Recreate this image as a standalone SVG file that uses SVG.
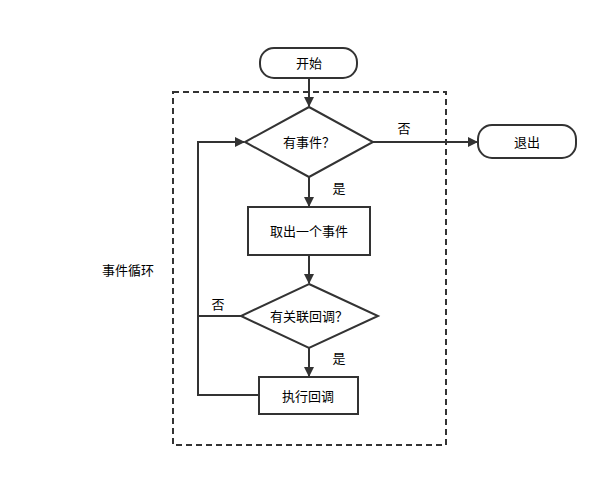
<svg xmlns="http://www.w3.org/2000/svg" width="608" height="478" viewBox="0 0 608 478">
<style>
.s{fill:#fff;stroke:#333;stroke-width:2}
.t{font-family:"Liberation Sans","Noto Sans CJK SC",sans-serif;font-size:13px;fill:#000;text-anchor:middle;dominant-baseline:central}
.c{fill:none;stroke:#333;stroke-width:2}
</style>
<defs><marker id="a" markerWidth="10" markerHeight="10" refX="9" refY="5" orient="auto" markerUnits="userSpaceOnUse"><path d="M0,0 L10,5 L0,10 Z" fill="#333"/></marker></defs>
<rect width="608" height="478" fill="#fff"/>
<g id="loop"><rect x="173" y="92" width="273" height="353" fill="none" stroke="#333" stroke-width="2" stroke-dasharray="6,4"/><text class="t" x="128" y="270">事件循环</text></g>
<g id="conn">
<path class="c" d="M309,78 V106" marker-end="url(#a)"/>
<path class="c" d="M373,142 H477" marker-end="url(#a)"/>
<path class="c" d="M309,177 V206" marker-end="url(#a)"/>
<path class="c" d="M309,255 V283" marker-end="url(#a)"/>
<path class="c" d="M309,348 V376" marker-end="url(#a)"/>
<path class="c" d="M241,316 H198 V142 H244" marker-end="url(#a)"/>
<path class="c" d="M259,395 H198 V316"/>
<text class="t" x="404" y="128">否</text>
<text class="t" x="339" y="188">是</text>
<text class="t" x="339" y="358">是</text>
<text class="t" x="218" y="304">否</text>
</g>
<g id="start"><rect class="s" x="260" y="48" width="97" height="30" rx="14"/><text class="t" x="309" y="63">开始</text></g>
<g id="d1"><polygon class="s" points="309,107 373,142 309,177 245,142"/><text class="t" x="309" y="142">有事件？</text></g>
<g id="exit"><rect class="s" x="478" y="125" width="98" height="33" rx="14"/><text class="t" x="527" y="142">退出</text></g>
<g id="take"><rect class="s" x="248" y="207" width="122" height="48"/><text class="t" x="309" y="231">取出一个事件</text></g>
<g id="d2"><polygon class="s" points="309,284 378,316 309,348 241,316"/><text class="t" x="309" y="316">有关联回调？</text></g>
<g id="exec"><rect class="s" x="259" y="377" width="99" height="37"/><text class="t" x="308" y="396">执行回调</text></g>
</svg>
